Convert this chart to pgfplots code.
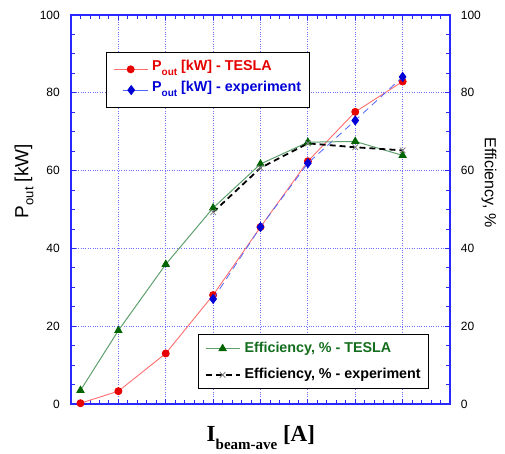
\documentclass[border=0pt]{standalone}
\usepackage{fontspec}
\setmainfont{Liberation Sans}
\newfontfamily\serif{Liberation Serif}
\usepackage{pgfplots}
\pgfplotsset{compat=1.18}

\definecolor{axblue}{RGB}{40,40,255}
\definecolor{gridblue}{RGB}{110,110,255}
\definecolor{lred}{RGB}{255,110,110}
\definecolor{mred}{RGB}{230,0,0}
\definecolor{lblue}{RGB}{80,100,255}
\definecolor{mblue}{RGB}{0,0,215}
\definecolor{lgreen}{RGB}{95,160,110}
\definecolor{dgreen}{RGB}{0,100,0}
\definecolor{tgreen}{RGB}{20,110,30}

\pgfplotsset{
  common/.style={
    at={(0pt,0pt)}, anchor=south west,
    scale only axis, width=379pt, height=389pt,
    xmin=0, xmax=8, ymin=0, ymax=100,
    /pgf/number format/assume math mode=true,
    tick label style={font=\fontsize{12}{12}\selectfont},
  },
  legimg/.style={legend image code/.code={\draw[mark repeat=2,mark phase=2,##1] plot coordinates {(0pt,0pt)(17pt,0pt)(34pt,0pt)};}},
  legimgb/.style={legend image code/.code={\path (0pt,0pt); \draw[mark repeat=2,mark phase=2,##1,solid] plot coordinates {(9pt,0pt)(17.5pt,0pt)(34pt,0pt)};}},
}

\begin{document}
\begin{tikzpicture}
\path[use as bounding box] (-71pt,-49pt) rectangle (434pt,404pt);
\begin{axis}[common, clip mode=individual,
  xtick={1,...,7}, xticklabels={}, minor xtick={0,0.2,...,8},
  ytick={0,20,...,100}, minor ytick={0,5,...,100},
  grid=major, grid style={gridblue, dotted, line width=0.8pt},
  tick align=inside, major tick length=5pt, minor tick length=4pt,
  every tick/.append style={axblue, line width=0.8pt},
  every minor tick/.append style={axblue, line width=0.8pt},
  axis line style={axblue, line width=1.2pt},
  yticklabel style={inner sep=0pt, xshift=-11pt, anchor=east},
  legend style={at={(0.092,0.905)}, anchor=north west, draw=black, line width=0.8pt, fill=white,
    inner sep=7pt, row sep=0.7pt, font=\fontsize{14.3}{14.3}\bfseries\selectfont,
    nodes={inner sep=1pt, text height=10pt, text depth=8pt}, cells={anchor=west},
    /tikz/every odd column/.append style={column sep=3pt}},
]
\addplot[color=lred, line width=0.9pt, mark=*, mark size=3.5pt, mark options={fill=mred, draw=mred}, legimg]
  coordinates {(0.2,0.2)(1,3.3)(2,13.0)(3,28.0)(4,45.5)(5,62.4)(6,75.1)(7,82.9)};
\addlegendentry{\color{mred}P\raisebox{-5pt}{\fontsize{10}{10}\selectfont out} [kW] - TESLA}
\addplot[color=lblue, line width=0.8pt, dash pattern=on 7pt off 5pt, mark=diamond*, mark size=4.5pt,
  mark options={solid, fill=mblue, draw=mblue}, legimgb]
  coordinates {(3,27.0)(4,45.5)(5,61.9)(6,72.9)(7,84.1)};
\addlegendentry{\color{mblue}P\raisebox{-5pt}{\fontsize{10}{10}\selectfont out} [kW] - experiment}
\node[rotate=90, anchor=base, font=\fontsize{19}{19}\selectfont] at (rel axis cs:-0.1127,0.573)
  {P\raisebox{-5pt}{\fontsize{13}{13}\selectfont out} [kW]};
\node[rotate=-90, anchor=base, font=\fontsize{16}{16}\selectfont] at (rel axis cs:1.0923,0.569) {Efficiency, \%};
\node[anchor=base, font=\serif\bfseries\fontsize{23}{23}\selectfont, yshift=-37.7pt] at (rel axis cs:0.501,0)
  {I\raisebox{-8pt}{\fontsize{15}{15}\selectfont beam-ave} [A]};
\end{axis}
\begin{axis}[common,
  axis x line=none, axis y line*=right, y axis line style={draw=none},
  ytick={0,20,...,100}, ytick style={draw=none},
  yticklabel style={inner sep=0pt, xshift=10.7pt, anchor=west},
  legend style={at={(0.943,0.179)}, anchor=north east, draw=black, line width=0.8pt, fill=white,
    inner sep=6.3pt, row sep=11.3pt, font=\fontsize{14.3}{14.3}\bfseries\selectfont,
    nodes={inner sep=1pt, text height=10pt, text depth=3pt}, cells={anchor=west},
    /tikz/every odd column/.append style={column sep=3pt}},
]
\addplot[color=lgreen, line width=1pt, mark=triangle*, mark size=4pt, mark options={fill=dgreen, draw=dgreen}, legimg]
  coordinates {(0.2,3.5)(1,18.9)(2,35.9)(3,50.4)(4,61.7)(5,67.3)(6,67.5)(7,63.9)};
\addlegendentry{\color{tgreen}Efficiency, \% - TESLA}
\addplot[black, line width=1.8pt, dash pattern=on 6pt off 4pt, mark=x, mark size=4pt,
  mark options={solid, draw=gray, line width=0.8pt}, legimg]
  coordinates {(3,49.3)(4,60.7)(5,67.0)(6,66.0)(7,65.2)};
\addlegendentry{Efficiency, \% - experiment}
\end{axis}
\end{tikzpicture}
\end{document}
